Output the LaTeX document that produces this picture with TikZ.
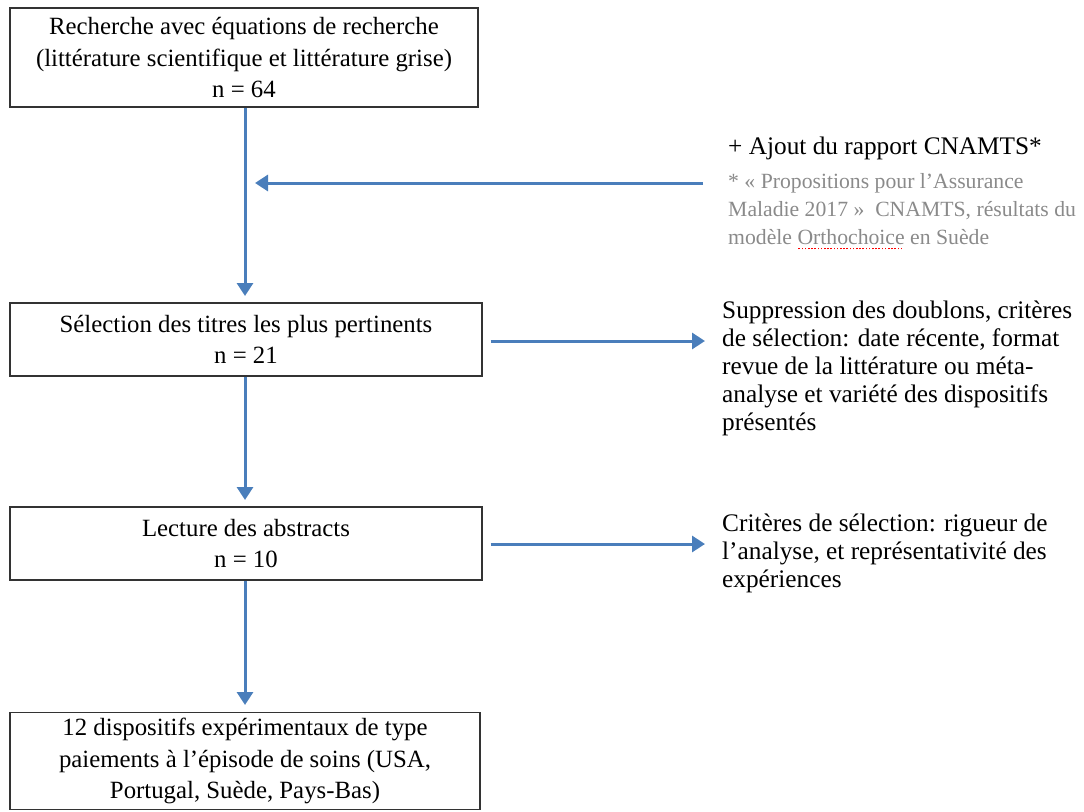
\documentclass[tikz,border=0pt]{standalone}
\usepackage{fontspec}
\setmainfont{Liberation Serif}
\usepackage{xcolor}
\usepackage{tikz}
\usetikzlibrary{
  arrows.meta,
  positioning,
}
\definecolor{flowblue}{HTML}{4A7EBB}
\definecolor{notegray}{HTML}{8A8A8A}
\newcommand{\spellmark}[1]{\setbox0\hbox{#1}%
  \rlap{\raisebox{-5pt}{\color{red}\hbox to \wd0{\leaders\hbox to 3.2pt{\hss\rule{1.6pt}{1.6pt}\hss}\hfil}}}#1}

\begin{document}
\begin{tikzpicture}[
    x=1pt, y=-1pt,
    stepbox/.style={draw=black!80, line width=1.4pt, align=center,
                    inner sep=0pt, font=\fontsize{24.8}{31.5}\selectfont},
    sidetext/.style={anchor=north west, align=left, inner sep=0pt,
                     font=\fontsize{25.3}{28}\selectfont},
    notetext/.style={anchor=north west, align=left, inner sep=0pt,
                     text=notegray, font=\fontsize{21.7}{28}\selectfont},
    flow/.style={draw=flowblue, line width=3pt,
                 -{Triangle[width=16pt,length=13pt]}},
  ]
  \useasboundingbox (0,0) rectangle (1084,811);

  % Main steps
  \node[stepbox, minimum width=468pt, minimum height=99pt] (search) at (244,57.5)
    {Recherche avec équations de recherche\\
     (littérature scientifique et littérature grise)\\
     n = 64};
  \node[stepbox, minimum width=472pt, minimum height=73pt] (titles) at (246,339.5)
    {Sélection des titres les plus pertinents\\ n = 21};
  \node[stepbox, minimum width=472pt, minimum height=73pt] (abstracts) at (246,543.5)
    {Lecture des abstracts\\ n = 10};
  \node[stepbox, minimum width=470pt, minimum height=97pt] (result) at (245,761)
    {12 dispositifs expérimentaux de type\\
     paiements à l’épisode de soins (USA,\\
     Portugal, Suède, Pays-Bas)};

  % Side notes
  \node[sidetext] (ajout) at (728,137) {+ Ajout du rapport CNAMTS*};
  \node[notetext] (source) at (728,173)
    {* « Propositions pour l’Assurance\\
     Maladie 2017 »~ CNAMTS, résultats du\\
     modèle \spellmark{Orthochoice} en Suède};
  \node[sidetext] (doublons) at (722,301)
    {Suppression des doublons, critères\\
     de sélection: date récente, format\\
     revue de la littérature ou méta-\\
     analyse et variété des dispositifs\\
     présentés};
  \node[sidetext] (criteres) at (722,514)
    {Critères de sélection: rigueur de\\
     l’analyse, et représentativité des\\
     expériences};

  \coordinate (addstart) at (703,183);
  \coordinate (addend) at (255,183);

  \draw[flow] (search.south -| 245,0) -- (245,296);
  \draw[flow] (titles.south -| 245,0) -- (245,500);
  \draw[flow] (abstracts.south -| 245,0) -- (245,705);
  \draw[flow] (addstart) -- (addend);
  \draw[flow, shorten <=8pt] (titles.east |- 0,341) -- (705,341);
  \draw[flow, shorten <=8pt] (abstracts.east |- 0,544) -- (705,544);
\end{tikzpicture}
\end{document}
